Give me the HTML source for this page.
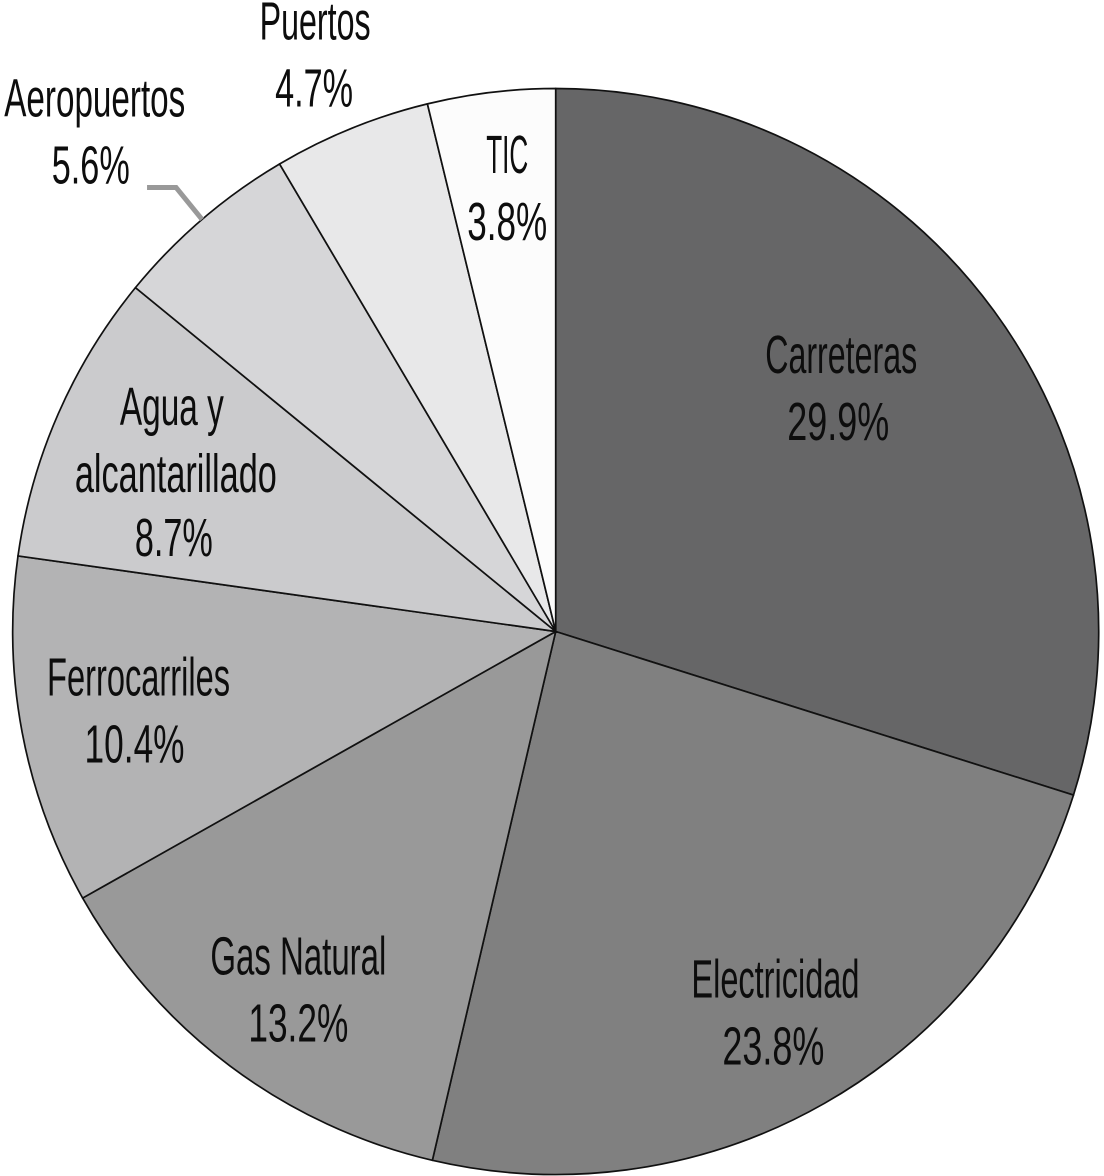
<!DOCTYPE html>
<html lang="es">
<head>
<meta charset="utf-8">
<title>Pie chart</title>
<style>
html,body{margin:0;padding:0;background:#fff;}
svg{display:block;}
text{font-family:"Liberation Sans",sans-serif;font-size:54px;fill:#0d0d0d;text-anchor:middle;}
</style>
</head>
<body>
<svg id="chart" xmlns="http://www.w3.org/2000/svg" width="1104" height="1176" viewBox="0 0 1104 1176"></svg>
<script>
// Data
const categories = ["Carreteras", "Electricidad", "Gas Natural", "Ferrocarriles", "Agua y|alcantarillado", "Aeropuertos", "Puertos", "TIC"];
const values = [29.9, 23.8, 13.2, 10.4, 8.7, 5.6, 4.7, 3.8];

// Style and label layout
const sliceColors = ["#666667", "#808080", "#999999", "#b3b3b4", "#cbcbcd", "#d6d6d8", "#e8e8e9", "#fcfcfc"];
const labelRadii = [385, 427, 429, 422, 435, 691, 639, 461];
const labelTurns = [-5.9, -1.3, 0, 2.0, 4.7, -1.2, 0, 0.8];
const lineWidths = {"Carreteras":152,"Electricidad":168,"Gas Natural":176,"Ferrocarriles":183,"Agua y":104,"alcantarillado":202,"Aeropuertos":181,"Puertos":111,"TIC":42};
const lineShifts = {"alcantarillado":3, "Agua y":-1};
const valueWidths = [102, 102, 100, 100, 78, 78, 78, 80];
const valueShiftX = [-3, -2, 0, -4, 1, -4, -1, 0];
const valueShiftY = [0, 0, 0, 0, -3, 0, 0, 0];

const NS = "http://www.w3.org/2000/svg";
const svg = document.getElementById("chart");
const cx = 555.7, cy = 631.5, radius = 543, lineGap = 67;
const total = values.reduce(function (a, b) { return a + b; }, 0);

function angleOf(v) { return v / total * 360; }
function polar(deg, r) {
  const t = deg * Math.PI / 180;
  return [cx + r * Math.sin(t), cy - r * Math.cos(t)];
}
function slug(s) { return s.toLowerCase().replace(/[^a-z0-9]+/g, "-"); }

let cum = 0;
const mids = [];
values.forEach(function (v, i) {
  const a0 = angleOf(cum), a1 = angleOf(cum + v);
  mids.push((a0 + a1) / 2);
  const p0 = polar(a0, radius), p1 = polar(a1, radius);
  const large = (a1 - a0) > 180 ? 1 : 0;
  const path = document.createElementNS(NS, "path");
  path.setAttribute("d", "M" + cx + " " + cy + "L" + p0[0] + " " + p0[1] + "A" + radius + " " + radius + " 0 " + large + " 1 " + p1[0] + " " + p1[1] + "Z");
  path.setAttribute("fill", sliceColors[i]);
  path.setAttribute("stroke", "#111");
  path.setAttribute("stroke-width", "1.7");
  path.setAttribute("stroke-linejoin", "round");
  
  
  svg.appendChild(path);
  cum += v;
});

// Leader line for the Aeropuertos label
const leaderEnd = polar(mids[5], radius);
const leader = document.createElementNS(NS, "polyline");
leader.setAttribute("points", (leaderEnd[0] - 55) + "," + (leaderEnd[1] - 32) + " " + (leaderEnd[0] - 26) + "," + (leaderEnd[1] - 32) + " " + leaderEnd[0] + "," + leaderEnd[1]);
leader.setAttribute("fill", "none");
leader.setAttribute("stroke", "#999999");
leader.setAttribute("stroke-width", "5");


svg.appendChild(leader);

function addLine(str, x, y, width, name) {
  const t = document.createElementNS(NS, "text");
  t.setAttribute("x", x);
  t.setAttribute("y", y);
  t.setAttribute("textLength", width);
  t.setAttribute("lengthAdjust", "spacingAndGlyphs");
  
  
  t.textContent = str;
  svg.appendChild(t);
}

categories.forEach(function (c, i) {
  const anchor = polar(mids[i] + labelTurns[i], labelRadii[i]);
  const lines = c.split("|");
  let y = anchor[1];
  lines.forEach(function (ln) {
    addLine(ln, anchor[0] + (lineShifts[ln] || 0), y, lineWidths[ln], 'label-' + slug(ln));
    y += lineGap;
  });
  addLine(values[i].toFixed(1) + "%", anchor[0] + valueShiftX[i], y + valueShiftY[i], valueWidths[i], 'value-' + slug(lines[0]));
});
</script>
</body>
</html>
